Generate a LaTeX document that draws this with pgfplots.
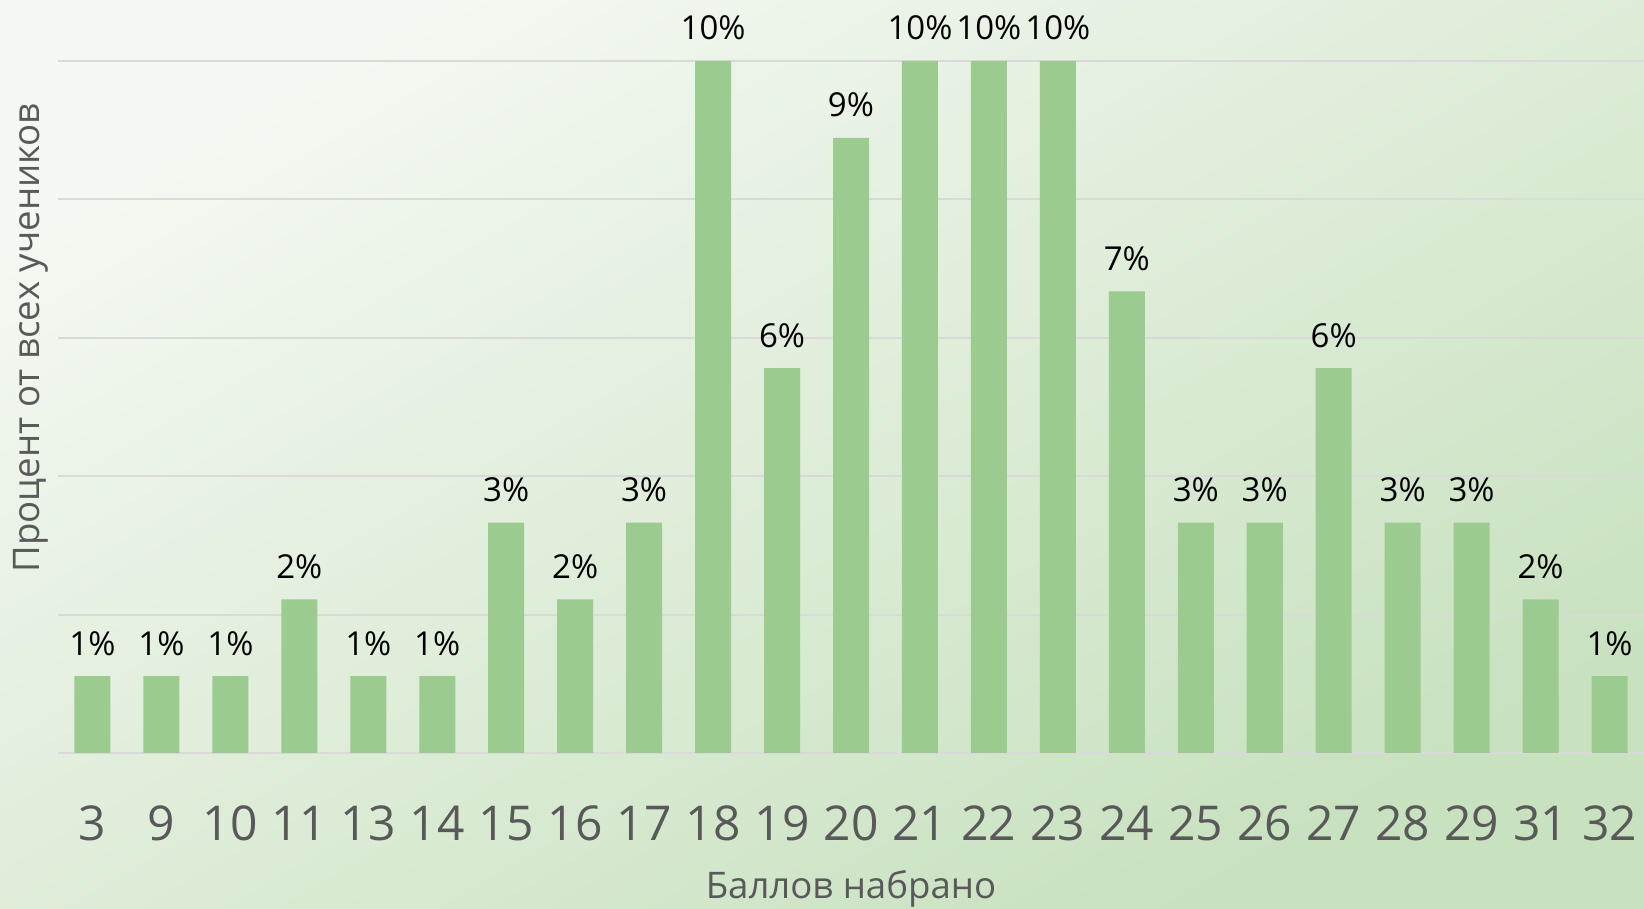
\documentclass[border=0pt]{standalone}
\usepackage{fontspec}
\setmainfont{Open Sans}
\usepackage{pgfplots}
\pgfplotsset{compat=1.18}
\definecolor{barGreen}{HTML}{9BCB8F}
\definecolor{gridGray}{HTML}{D9D9D9}
\definecolor{txtGray}{HTML}{595959}
\definecolor{bgLight}{HTML}{F4F8F2}
\definecolor{bgDark}{HTML}{C8E1BF}

% share of students (%) per score; 90 students in all
\pgfplotstableread{
x y
0 1.11
1 1.11
2 1.11
3 2.22
4 1.11
5 1.11
6 3.33
7 2.22
8 3.33
9 10
10 5.56
11 8.89
12 10
13 10
14 10
15 6.67
16 3.33
17 3.33
18 5.56
19 3.33
20 3.33
21 2.22
22 1.11
}\scores

\begin{document}
\begin{tikzpicture}
\shade[top color=bgLight, bottom color=bgDark, shading angle=30]
  (0,0) rectangle (822pt,454.5pt);
\useasboundingbox (0,0) rectangle (822pt,454.5pt);
\begin{axis}[
    at={(29pt,78pt)}, anchor=south west,
    scale only axis, width=793pt, height=346pt,
    ybar, bar width=18pt,
    xmin=-0.5, xmax=22.5, ymin=0, ymax=10,
    clip=false,
    xtick=data,
    xticklabels={3,9,10,11,13,14,15,16,17,18,19,20,21,22,23,24,25,26,27,28,29,31,32},
    xticklabel style={font=\fontsize{24}{24}\selectfont, text=txtGray,
                      anchor=base, yshift=-39.5pt},
    ytick={0,2,4,6,8,10}, yticklabels={},
    ymajorgrids,
    major grid style={gridGray, line width=1pt},
    tick style={draw=none},
    axis line style={draw=none},
    xlabel={Баллов набрано},
    xlabel style={at={(rel axis cs:0.5,0)}, anchor=base, yshift=-73pt,
                  font=\fontsize{18.3}{18.3}\selectfont, text=txtGray},
    ylabel={Процент от всех учеников},
    ylabel style={at={(rel axis cs:-0.017,0.6)}, anchor=center,
                  font=\fontsize{18.3}{18.3}\selectfont, text=txtGray},
    nodes near coords={\pgfmathprintnumber[fixed,precision=0,assume math mode=true]{\pgfplotspointmeta}\%},
    every node near coord/.append style={anchor=base, yshift=10.5pt, inner sep=0pt,
                  font=\fontsize{16.5}{16.5}\selectfont, text=black},
]
  \addplot[fill=barGreen, draw=none] table[x=x, y=y] {\scores};
\end{axis}
\end{tikzpicture}
\end{document}
